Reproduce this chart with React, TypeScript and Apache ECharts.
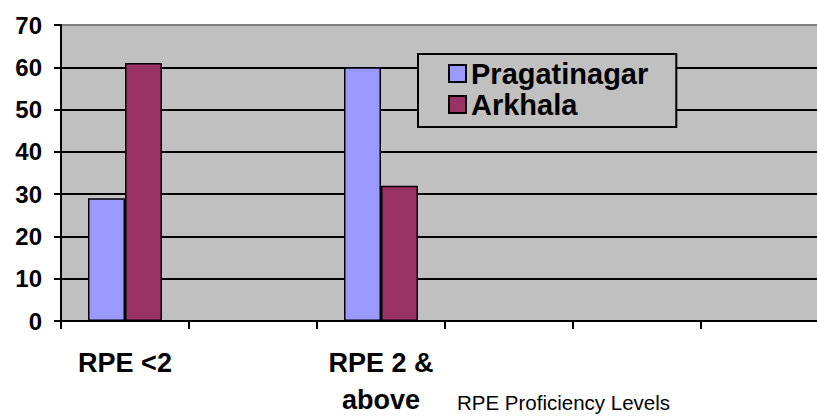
import React, { useEffect, useRef } from "react";
import * as echarts from "echarts";

const categories = ["RPE <2", "", "RPE 2 &\nabove", "", "", ""];
const pragatinagar = [29, null, 60, null, null, null];
const arkhala = [61, null, 32, null, null, null];
const seriesNames = ["Pragatinagar", "Arkhala"];
const axisTitle = "RPE Proficiency Levels";

export default function App() {
  const ref = useRef<HTMLDivElement>(null);
  useEffect(() => {
    if (!ref.current) return;
    const chart = echarts.init(ref.current, null, { renderer: "svg" });
    const font = "Liberation Sans, Arial, sans-serif";
    chart.setOption({
      animation: false,
      title: {
        text: axisTitle,
        left: 457,
        top: 392,
        padding: 0,
        textStyle: { fontFamily: font, fontSize: 20.5, fontWeight: "normal", color: "#000" },
      },
      legend: {
        orient: "vertical",
        left: 418,
        top: 54,
        data: seriesNames,
        icon: "rect",
        itemWidth: 17,
        itemHeight: 17,
        itemGap: 2,
        itemTextGap: 12,
        padding: [5, 28, 8, 30],
        backgroundColor: "#C0C0C0",
        borderColor: "#000",
        borderWidth: 2,
        textStyle: { fontFamily: font, fontSize: 29, fontWeight: "bold", color: "#000" },
      },
      grid: {
        left: 61,
        top: 25,
        bottom: 93,
        right: 1,
        show: true,
        backgroundColor: "#C0C0C0",
        borderColor: "#808080",
        borderWidth: 2,
      },
      xAxis: {
        type: "category",
        data: categories,
        axisLine: { lineStyle: { color: "#000", width: 2 } },
        axisTick: { show: true, length: 8, lineStyle: { color: "#000", width: 2 } },
        axisLabel: {
          interval: 0,
          margin: 23,
          fontFamily: font,
          fontSize: 27,
          fontWeight: "bold",
          color: "#000",
          lineHeight: 37,
        },
        splitLine: { show: false },
      },
      yAxis: {
        type: "value",
        min: 0,
        max: 70,
        interval: 10,
        axisLine: { show: true, lineStyle: { color: "#000", width: 2 } },
        axisTick: { show: true, length: 7, lineStyle: { color: "#000", width: 2 } },
        axisLabel: {
          margin: 19,
          fontFamily: font,
          fontSize: 24,
          fontWeight: "bold",
          color: "#000",
        },
        splitLine: {
          show: true,
          lineStyle: {
            color: ["#000", "#000", "#000", "#000", "#000", "#000", "#000", "#808080"],
            width: 2,
          },
        },
      },
      series: [
        {
          name: seriesNames[0],
          type: "bar",
          data: pragatinagar,
          barWidth: 37,
          barGap: "0%",
          itemStyle: { color: "#9999FF", borderColor: "#000", borderWidth: 1.5 },
        },
        {
          name: seriesNames[1],
          type: "bar",
          data: arkhala,
          barWidth: 37,
          barGap: "0%",
          itemStyle: { color: "#993366", borderColor: "#000", borderWidth: 1.5 },
        },
      ],
    });
    return () => chart.dispose();
  }, []);
  return (
    <div style={{ position: "absolute", left: 0, top: 0, width: 817, height: 418, overflow: "hidden" }}>
      <div ref={ref} style={{ width: 830, height: 418 }} />
    </div>
  );
}
